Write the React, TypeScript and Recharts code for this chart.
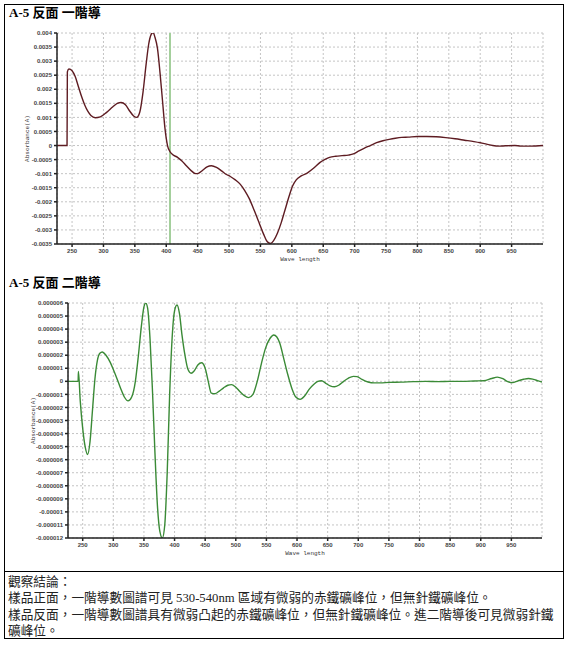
import React from 'react';
import { LineChart, Line, XAxis, YAxis, CartesianGrid, ReferenceLine } from 'recharts';

// wavelength axis shared by both spectra
const WAVE_DOMAIN = [226, 1000];
const WAVE_TICKS = [250, 300, 350, 400, 450, 500, 550, 600, 650, 700, 750, 800, 850, 900, 950];

// first derivative (values in 1e-3 A)
const FIRST_WL = [
  226, 242, 242.5, 245, 250, 255, 260, 265, 270, 275, 280, 287, 295, 305, 315, 322, 328, 335, 342, 348,
  353, 358, 363, 368, 372, 376, 379, 382, 386, 390, 394, 398, 402, 406, 410, 418, 425, 432, 440, 447,
  452, 458, 465, 472, 480, 488, 495, 502, 510, 518, 525, 532, 540, 548, 555, 561, 566, 571, 577, 583,
  589, 595, 601, 607, 615, 625, 635, 645, 652, 660, 670, 680, 690, 698, 706, 715, 725, 735, 745, 755,
  765, 775, 785, 800, 815, 830, 845, 860, 875, 890, 900, 910, 920, 930, 940, 955, 965, 980, 1000,
];
const FIRST_ABS = [
  0, 0, 2.62, 2.72, 2.66, 2.45, 2.1, 1.75, 1.45, 1.22, 1.07, 0.99, 1.02, 1.18, 1.38, 1.5, 1.53, 1.45, 1.22, 1.05,
  1.0, 1.2, 1.9, 2.9, 3.6, 3.95, 4.02, 3.85, 3.45, 2.6, 1.6, 0.6, 0.0, -0.22, -0.32, -0.42, -0.55, -0.72, -0.9, -1.0,
  -0.98, -0.88, -0.76, -0.72, -0.78, -0.9, -1.02, -1.1, -1.22, -1.38, -1.6, -1.88, -2.3, -2.75, -3.15, -3.42, -3.48, -3.38, -3.12, -2.75,
  -2.3, -1.85, -1.45, -1.22, -1.08, -0.97, -0.8, -0.6, -0.5, -0.42, -0.38, -0.36, -0.34, -0.3, -0.2, -0.1, 0.0, 0.1, 0.17, 0.22,
  0.26, 0.29, 0.3, 0.32, 0.32, 0.31, 0.28, 0.24, 0.19, 0.14, 0.1, 0.05, 0.0, -0.02, -0.01, 0.0, -0.02, -0.02, 0.0,
];
const FIRST_TICKS = [0.004, 0.0035, 0.003, 0.0025, 0.002, 0.0015, 0.001, 0.0005, 0, -0.0005, -0.001, -0.0015, -0.002, -0.0025, -0.003, -0.0035];
const MARKER_WL = 406;

// second derivative (values in 1e-6 A)
const SECOND_WL = [
  226, 242, 242.5, 243, 246, 250, 254, 258, 262, 266, 270, 274, 278, 282, 288, 295, 300, 306, 312, 318,
  324, 330, 336, 341, 346, 350, 353, 356, 360, 364, 368, 372, 376, 380, 384, 388, 392, 396, 400, 404,
  408, 412, 417, 422, 427, 432, 438, 444, 450, 455, 460, 466, 473, 480, 487, 493, 500, 507, 514, 521,
  528, 535, 542, 549, 556, 562, 567, 572, 578, 585, 592, 598, 605, 612, 620, 628, 634, 640, 647, 654,
  661, 668, 676, 684, 692, 698, 706, 716, 726, 736, 750, 770, 790, 810, 830, 850, 870, 890, 905, 918,
  927, 936, 944, 952, 960, 970, 978, 986, 994, 1000,
];
const SECOND_ABS = [
  0, 0, 0, 0.75, -1.5, -3.6, -5.0, -5.6, -4.6, -2.2, 0.2, 1.6, 2.15, 2.25, 2.0, 1.45, 0.9, 0.2, -0.55, -1.2,
  -1.5, -1.2, 0.0, 2.0, 4.3, 5.7, 6.0, 5.6, 3.2, -0.8, -5.5, -9.5, -11.5, -12.0, -11.0, -7.0, -1.0, 3.3, 5.4, 5.85,
  5.2, 3.6, 2.0, 0.9, 0.62, 0.8, 1.25, 1.42, 1.0, 0.0, -0.9, -0.95, -0.75, -0.5, -0.3, -0.25, -0.45, -0.8, -1.1, -1.25,
  -1.0, 0.0, 1.4, 2.6, 3.3, 3.55, 3.4, 2.9, 1.8, 0.5, -0.6, -1.2, -1.38, -1.15, -0.6, -0.2, 0.0, 0.05, -0.15, -0.35,
  -0.42, -0.3, 0.0, 0.25, 0.38, 0.36, 0.15, -0.05, -0.12, -0.12, -0.08, -0.06, -0.02, 0.0, -0.02, 0.0, 0.0, 0.03, 0.05, 0.22,
  0.32, 0.2, -0.02, -0.1, 0.02, 0.16, 0.22, 0.15, 0.03, -0.05,
];
const SECOND_TICKS = [
  0.000006, 0.000005, 0.000004, 0.000003, 0.000002, 0.000001, 0, -0.000001, -0.000002, -0.000003,
  -0.000004, -0.000005, -0.000006, -0.000007, -0.000008, -0.000009, -0.00001, -0.000011, -0.000012,
];

const TITLE_1 = 'A-5 反面 一階導';
const TITLE_2 = 'A-5 反面 二階導';
const NOTES = [
  '觀察結論：',
  '樣品正面，一階導數圖譜可見 530-540nm 區域有微弱的赤鐵礦峰位，但無針鐵礦峰位。',
  '樣品反面，一階導數圖譜具有微弱凸起的赤鐵礦峰位，但無針鐵礦峰位。進二階導後可見微弱針鐵',
  '礦峰位。',
];

const firstData = FIRST_WL.map((wl, i) => ({ wl, abs: FIRST_ABS[i] * 1e-3 }));
const secondData = SECOND_WL.map((wl, i) => ({ wl, abs: SECOND_ABS[i] * 1e-6 }));

const fmtTick = (v: number) => {
  const s = v.toFixed(6).replace(/\.?0+$/, '');
  return s === '-0' ? '0' : s;
};

const tickStyle = { fontSize: 6, fill: '#444', fontFamily: 'Liberation Sans, Arial', fontWeight: 'bold' as const };
const labelStyle = { fontSize: 6, fill: '#333', fontFamily: 'Liberation Mono, monospace' };
const serif = 'Liberation Serif, "Noto Sans CJK TC", serif';

interface SpectrumProps {
  data: { wl: number; abs: number }[];
  yTicks: number[];
  color: string;
  height: number;
  margin: { top: number; right: number; bottom: number; left: number };
  yAxisWidth: number;
  yLabelOffset: number;
  marker?: number;
}

const Spectrum: React.FC<SpectrumProps> = ({ data, yTicks, color, height, margin, yAxisWidth, yLabelOffset, marker }) => {
  const yDomain = [Math.min(...yTicks), Math.max(...yTicks)];
  return (
    <LineChart width={570} height={height} data={data} margin={margin}>
      <CartesianGrid stroke="#c4c4c4" strokeDasharray="2 2" />
      <XAxis
        type="number"
        dataKey="wl"
        domain={WAVE_DOMAIN}
        ticks={WAVE_TICKS}
        allowDataOverflow
        height={20}
        stroke="#222"
        strokeWidth={1.5}
        tickSize={3}
        tick={tickStyle}
        label={{ value: 'Wave length', position: 'insideBottom', offset: 3, style: labelStyle }}
      />
      <XAxis xAxisId="top" orientation="top" type="number" domain={WAVE_DOMAIN} height={0} tick={false} tickLine={false} stroke="#9a9a9a" />
      <YAxis
        type="number"
        domain={yDomain}
        ticks={yTicks}
        allowDataOverflow
        width={yAxisWidth}
        stroke="#222"
        strokeWidth={1.5}
        tickSize={3}
        tick={tickStyle}
        tickFormatter={fmtTick}
        interval={0}
        label={{ value: 'Absorbance(A)', angle: -90, position: 'insideLeft', offset: yLabelOffset, style: { ...labelStyle, textAnchor: 'middle' } }}
      />
      <YAxis yAxisId="right" orientation="right" width={0} tick={false} tickLine={false} stroke="#9a9a9a" />
      {marker !== undefined && <ReferenceLine x={marker} stroke="#a4cf9c" strokeWidth={2} />}
      <Line
        type="monotone"
        dataKey="abs"
        stroke={color}
        strokeWidth={1.4}
        dot={false}
        activeDot={false}
        isAnimationActive={false}
      />
    </LineChart>
  );
};

export default function App() {
  return (
    <div style={{ position: 'absolute', left: 0, top: 0, width: 570, height: 645, background: '#fff' }}>
      <div
        style={{
          position: 'absolute', left: 4, top: 4, width: 560, height: 635,
          boxSizing: 'border-box', border: '1.5px solid #000',
        }}
      />
      <div style={{ position: 'absolute', left: 4, top: 571, width: 560, borderTop: '1.5px solid #000' }} />

      <div style={{ position: 'absolute', left: 9, top: 5, fontFamily: serif, fontWeight: 'bold', fontSize: 13, lineHeight: '15px', color: '#000' }}>
        {TITLE_1}
      </div>
      <div style={{ position: 'absolute', left: 0, top: 0 }}>
        <Spectrum
          data={firstData}
          yTicks={FIRST_TICKS}
          color="#5e1c22"
          height={270}
          margin={{ top: 33, right: 27, bottom: 6, left: 17 }}
          yAxisWidth={40}
          yLabelOffset={10}
          marker={MARKER_WL}
        />
      </div>

      <div style={{ position: 'absolute', left: 9, top: 275, fontFamily: serif, fontWeight: 'bold', fontSize: 13, lineHeight: '15px', color: '#000' }}>
        {TITLE_2}
      </div>
      <div style={{ position: 'absolute', left: 0, top: 270 }}>
        <Spectrum
          data={secondData}
          yTicks={SECOND_TICKS}
          color="#3a8a36"
          height={295}
          margin={{ top: 33, right: 28, bottom: 7, left: 18 }}
          yAxisWidth={50}
          yLabelOffset={15}
        />
      </div>

      <div style={{ position: 'absolute', left: 8, top: 574, fontFamily: serif, fontSize: 12.7, lineHeight: '16.3px', color: '#222' }}>
        {NOTES.map((t, i) => (
          <div key={i} style={{ whiteSpace: 'nowrap' }}>{t}</div>
        ))}
      </div>
    </div>
  );
}
